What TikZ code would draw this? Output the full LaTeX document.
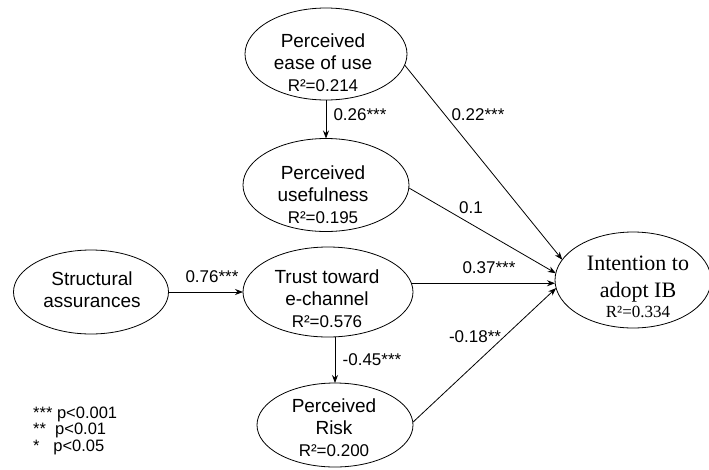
\documentclass[tikz,border=0pt]{standalone}
\usepackage{fontspec}
\setmainfont{Liberation Sans}
\newfontfamily\timesf{Liberation Serif}
\usetikzlibrary{arrows.meta,shapes.geometric}
\newcommand{\rsq}[1]{{\fontsize{17}{22}\selectfont R²=#1}}
\begin{document}
\begin{tikzpicture}[x=1pt,y=-1pt,
  ell/.style={draw, ellipse, line width=0.8pt, inner sep=0pt, outer sep=0pt},
  txt/.style={anchor=base, inner sep=0pt, font=\fontsize{19}{22}\selectfont},
  lab/.style={inner sep=0pt, font=\fontsize{17}{20}\selectfont},
  arr/.style={-{Stealth[length=8pt,width=6pt]}, line width=0.8pt}]
\useasboundingbox (0,0) rectangle (709,469);
% ellipses
\node[ell, minimum width=162pt, minimum height=92pt] (peou)  at (326,54)  {};
\node[ell, minimum width=166pt, minimum height=93pt] (pu)    at (326,185) {};
\node[ell, minimum width=155pt, minimum height=84pt] (sa)    at (91,292)  {};
\node[ell, minimum width=170pt, minimum height=90pt] (trust) at (328,292) {};
\node[ell, minimum width=156pt, minimum height=84pt] (risk)  at (335,425) {};
\node[ell, minimum width=156pt, minimum height=96pt] (int)   at (633,280) {};
% texts
\node[txt] (peoutxt) at (323,47) {\begin{tabular}[t]{@{}c@{}}Perceived\\ease of use\\\rsq{0.214}\end{tabular}};
\node[txt] (putxt) at (323,179) {\begin{tabular}[t]{@{}c@{}}Perceived\\usefulness\\\rsq{0.195}\end{tabular}};
\node[txt] (satxt) at (92,285) {\begin{tabular}[t]{@{}c@{}}Structural\\assurances\end{tabular}};
\node[txt] (trusttxt) at (327,283) {\begin{tabular}[t]{@{}c@{}}Trust toward\\e-channel\\\rsq{0.576}\end{tabular}};
\node[txt] (risktxt) at (334,412) {\begin{tabular}[t]{@{}c@{}}Perceived\\Risk\\\rsq{0.200}\end{tabular}};
\node[txt, font=\timesf\fontsize{22}{27}\selectfont] (inttxt) at (638,270) {\begin{tabular}[t]{@{}c@{}}Intention to\\adopt IB\\[-7pt]\rsq{0.334}\end{tabular}};
% connectors
\draw[arr] (peou.south) -- (pu.north);
\draw[arr] (peou.-8) -- (int.164);
\draw[arr] (pu.-2) -- (int.175);
\draw[arr] (sa) -- (trust);
\draw[arr] (trust.6) -- (trust.6 -| int.west);
\draw[arr] (risk.north |- trust.south) -- (risk.north);
\draw[arr] (risk.2) -- (int.186);
% labels
\node[lab] (l1) at (360,115) {0.26***};
\node[lab] (l2) at (478,115) {0.22***};
\node[lab] (l3) at (471,208) {0.1};
\node[lab] (l4) at (212,277) {0.76***};
\node[lab] (l5) at (489,268) {0.37***};
\node[lab] (l6) at (372,360) {-0.45***};
\node[lab] (l7) at (475,337) {-0.18**};
% legend
\node[anchor=base west, inner sep=0pt, font=\fontsize{16.5}{16.5}\selectfont] (legend) at (33,418)
  {\begin{tabular}[t]{@{}l@{}}*** p<0.001\\\relax**\ \ p<0.01\\\relax*\ \ \ p<0.05\end{tabular}};
\end{tikzpicture}
\end{document}
